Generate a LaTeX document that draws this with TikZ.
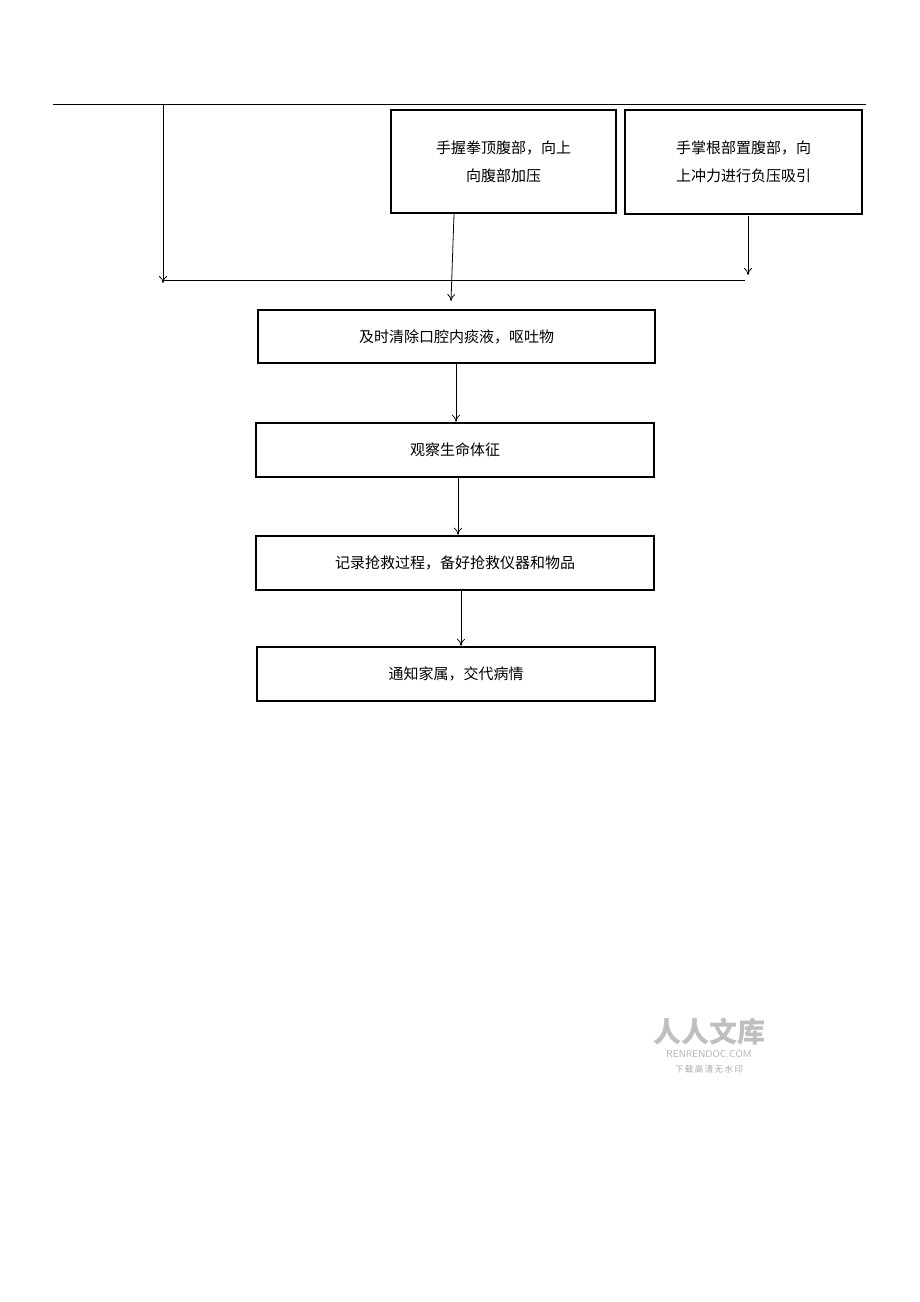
\documentclass[tikz,border=0pt]{standalone}
\usepackage{fontspec}
\newfontfamily\cjk{Noto Sans CJK SC}
\newfontfamily\cjkserif{Noto Sans CJK SC}[FakeBold=0]
\usetikzlibrary{arrows.meta}
\begin{document}
\begin{tikzpicture}[x=1pt,y=-1pt,
  box/.style={draw,line width=2.4pt,inner sep=0pt,font=\cjk\fontsize{15}{28}\selectfont,align=center},
  arr/.style={-{To[length=7pt,width=8pt]},line width=0.8pt},
  ln/.style={line width=0.8pt}]
\useasboundingbox (0,0) rectangle (920,1302);
\draw[ln] (53,104) -- (866,104);
\node[box,minimum width=225pt,minimum height=103pt] (b1) at (503.5,161.5) {手握拳顶腹部，向上\\向腹部加压};
\node[box,minimum width=237pt,minimum height=104pt] (b2) at (743.5,162) {手掌根部置腹部，向\\上冲力进行负压吸引};
\node[box,minimum width=397pt,minimum height=53pt] (b3) at (456.5,336.5) {及时清除口腔内痰液，呕吐物};
\node[box,minimum width=398pt,minimum height=54pt] (b4) at (455,450) {观察生命体征};
\node[box,minimum width=398pt,minimum height=54pt] (b5) at (455,563) {记录抢救过程，备好抢救仪器和物品};
\node[box,minimum width=398pt,minimum height=54pt] (b6) at (456,674) {通知家属，交代病情};
\coordinate (t1) at (163,104);
\coordinate (t2) at (163,283);
\coordinate (h1) at (163,280);
\coordinate (h2) at (745,280);
\draw[arr] (t1) -- (t2);
\draw[ln] (h1) -- (h2);
\coordinate (a1) at (454,214);
\coordinate (a2) at (451,301);
\draw[arr] (a1) -- (a2);
\coordinate (c1) at (748,216);
\coordinate (c2) at (748,275);
\draw[arr] (c1) -- (c2);
\draw[arr] (456,363) -- (b4.north -| 456,0);
\draw[arr] (458,477) -- (b5.north -| 458,0);
\draw[arr] (461,590) -- (b6.north -| 461,0);
\node[text=black!25,font=\cjk\bfseries\fontsize{28}{30}\selectfont] (w1) at (709,1032) {人人文库};
\node[text=black!30,font=\sffamily\fontsize{10}{11}\selectfont] (w2) at (709,1054) {RENRENDOC.COM};
\node[text=black!35,font=\cjk\fontsize{8.5}{10}\selectfont] (w3) at (709,1069) {下\,载\,高\,清\,无\,水\,印};
\end{tikzpicture}
\end{document}
